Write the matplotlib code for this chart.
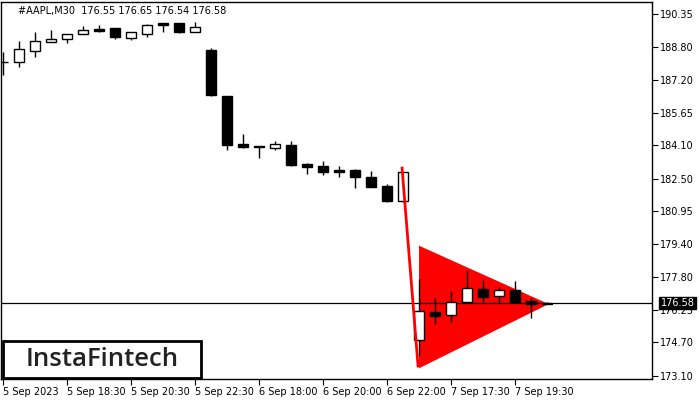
import matplotlib
matplotlib.use("Agg")
import matplotlib.pyplot as plt
from matplotlib.patches import Rectangle
from matplotlib.transforms import blended_transform_factory

# AAPL M30 candles (index = bar number)
opens = [188.06, 188.05, 188.60, 189.03, 189.16, 189.40, 189.64, 189.68, 189.19, 189.40,
         189.91, 189.91, 189.51, 188.63, 186.44, 184.16, 184.03, 183.98, 184.11, 183.22,
         183.11, 182.92, 182.92, 182.58, 182.15, 181.45, 174.80, 176.15, 175.99, 176.64,
         177.23, 176.90, 177.20, 176.67, 176.55]
highs = [188.54, 189.08, 189.48, 189.59, 189.40, 189.78, 189.84, 189.68, 189.49, 189.87,
         189.91, 189.91, 189.95, 188.72, 186.44, 184.63, 184.04, 184.30, 184.30, 183.25,
         183.35, 183.11, 182.95, 182.87, 182.25, 182.82, 177.71, 176.82, 177.15, 178.17,
         177.68, 177.34, 177.63, 176.82, 176.65]
lows = [187.44, 187.81, 188.29, 189.03, 188.95, 189.40, 189.48, 189.16, 189.11, 189.27,
        189.51, 189.46, 189.51, 186.44, 183.87, 183.95, 183.50, 183.88, 183.12, 182.74,
        182.69, 182.60, 182.07, 182.12, 181.41, 181.41, 174.07, 175.59, 175.69, 176.59,
        176.64, 176.59, 176.64, 175.88, 176.54]
closes = [188.06, 188.67, 189.05, 189.16, 189.40, 189.59, 189.55, 189.24, 189.48, 189.83,
          189.83, 189.51, 189.72, 186.49, 184.11, 183.99, 184.02, 184.14, 183.17, 183.07,
          182.82, 182.84, 182.60, 182.12, 181.45, 182.81, 176.20, 175.97, 176.63, 177.28,
          176.88, 177.18, 176.64, 176.52, 176.58]

time_ticks = [0, 4, 8, 12, 16, 20, 24, 28, 32]
time_labels = ["5 Sep 2023", "5 Sep 18:30", "5 Sep 20:30", "5 Sep 22:30", "6 Sep 18:00",
               "6 Sep 20:00", "6 Sep 22:00", "7 Sep 17:30", "7 Sep 19:30"]
price_ticks = [190.35, 188.80, 187.20, 185.65, 184.10, 182.50, 180.95, 179.40,
               177.80, 176.25, 174.70, 173.10]

last_price = 176.58
title = "#AAPL,M30  176.55 176.65 176.54 176.58"

# bearish pennant pattern
pole_x = [24.94, 25.94]
pole_y = [183.01, 173.58]
pennant_x = [26.0, 26.0, 34.1]
pennant_y = [179.31, 173.47, 176.53]

fig = plt.figure(figsize=(7, 4), dpi=100)
ax = fig.add_axes([1 / 700, 21 / 400, 651 / 700, 377 / 400])

ax.fill(pennant_x, pennant_y, color="#ff0000", lw=0, zorder=1)

idx = list(range(len(opens)))
ax.vlines(idx, lows, highs, color="black", lw=1, zorder=2)
bottoms = [min(o, c) for o, c in zip(opens, closes)]
heights = [max(abs(c - o), 0.02) for o, c in zip(opens, closes)]
faces = ["white" if c > o else "black" for o, c in zip(opens, closes)]
ax.bar(idx, heights, bottom=bottoms, width=0.66, color=faces, edgecolor="black",
       linewidth=1, zorder=3)

ax.plot(pole_x, pole_y, color="#ff0000", lw=2, zorder=4)
ax.axhline(last_price, color="black", lw=0.9, zorder=2)

ax.set_xlim(-0.125, 40.56)
ax.set_ylim(172.96, 190.92)

ax.yaxis.tick_right()
ax.set_yticks(price_ticks)
ax.set_yticklabels(["%.2f" % p for p in price_ticks])
ax.set_xticks(time_ticks)
ax.set_xticklabels(time_labels, ha="left")
ax.tick_params(axis="both", direction="out", length=4, width=0.8, colors="black",
               labelsize=7, pad=2)
for s in ax.spines.values():
    s.set_color("black")
    s.set_linewidth(1)

# current price box on the price scale
trans = blended_transform_factory(ax.transAxes, ax.transData)
ax.text(1.0135, last_price, "%.2f" % last_price, transform=trans, color="white",
        fontsize=7, va="center", ha="left", zorder=10, clip_on=False,
        bbox=dict(boxstyle="square,pad=0.15", fc="black", ec="black"))

fig.text(18 / 700, 1 - 11 / 400, title, fontsize=7, color="black", va="center")

# logo
fig.add_artist(Rectangle((3 / 700, 22 / 400), 198 / 700, 37 / 400, transform=fig.transFigure,
                         facecolor="white", edgecolor="black", lw=2, zorder=20))
fig.text(102 / 700, 41 / 400, "InstaFintech", fontsize=18.5, family="Open Sans",
         weight="semibold", color="#222222", ha="center", va="center", zorder=21)

fig.savefig("out.png", dpi=100)
